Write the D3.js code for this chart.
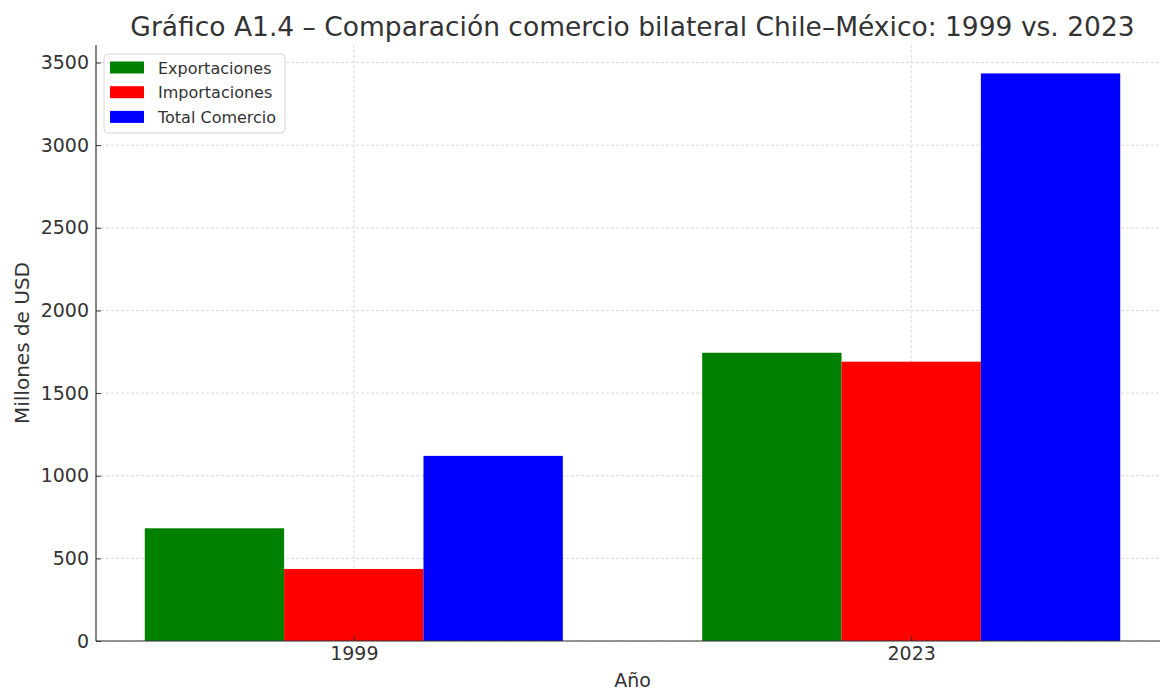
<!DOCTYPE html>
<html>
<head>
<meta charset="utf-8">
<script src="https://cdn.jsdelivr.net/npm/d3@7"></script>
<style>
  html, body { margin: 0; padding: 0; background: #fff; }
  svg { display: block; font-family: "DejaVu Sans", sans-serif; }
</style>
</head>
<body>
<svg id="chart" width="1160" height="690"></svg>
<script>
// Bilateral trade Chile–México, millions of USD
const years = ["1999", "2023"];
const seriesNames = ["Exportaciones", "Importaciones", "Total Comercio"];
const exportaciones = [682, 1744];
const importaciones = [436, 1690];
const totalComercio = [1120, 3434];
const yTicks = [0, 500, 1000, 1500, 2000, 2500, 3000, 3500];
const colors = ["#008000", "#ff0000", "#0000ff"];

const seriesValues = [exportaciones, importaciones, totalComercio];

const svg = d3.select("#chart");
const textColor = "#333333";

const plotLeft = 96, plotRight = 1169, plotTop = 45, plotBottom = 641;
const barWidth = 0.25;

// Linear x over category index, padded like a grouped bar layout
const x = d3.scaleLinear().domain([-0.4625, 1.4625]).range([plotLeft, plotRight]);
const y = d3.scaleLinear().domain([0, 3606]).range([plotBottom, plotTop]);

// Gridlines
const grid = svg.append("g");
grid.selectAll("line.h").data(yTicks).join("line")
  .attr("x1", plotLeft).attr("x2", plotRight)
  .attr("y1", d => y(d)).attr("y2", d => y(d))
  .attr("stroke", "#cfcfcf").attr("stroke-width", 0.8)
  .attr("stroke-dasharray", "3,2");
grid.selectAll("line.v").data(years).join("line")
  .attr("x1", (d, i) => x(i)).attr("x2", (d, i) => x(i))
  .attr("y1", plotTop).attr("y2", plotBottom)
  .attr("stroke", "#cfcfcf").attr("stroke-width", 0.8)
  .attr("stroke-dasharray", "3,2");

// Bars
const bars = svg.append("g");
seriesValues.forEach((vals, s) => {
  const offset = (s - 1) * barWidth;
  bars.append("g").selectAll("rect").data(vals).join("rect")
    .attr("x", (d, i) => x(i + offset - barWidth / 2))
    .attr("width", (d, i) => x(i + offset + barWidth / 2) - x(i + offset - barWidth / 2))
    .attr("y", d => y(d))
    .attr("height", d => y(0) - y(d))
    .attr("fill", colors[s]);
});

// Axes
const yAxis = d3.axisLeft(y).tickValues(yTicks).tickFormat(d3.format("d"))
  .tickSizeInner(-5).tickSizeOuter(0).tickPadding(7);
const gy = svg.append("g").attr("transform", `translate(${plotLeft},0)`).call(yAxis);
gy.select(".domain").attr("stroke", "#333").attr("stroke-width", 1.2).attr("d", `M0,${plotTop}V${plotBottom}`);
gy.selectAll(".tick line").attr("stroke", "#333");
gy.selectAll(".tick text").attr("fill", textColor).style("font-size", "19px")
  .style("font-family", "DejaVu Sans, sans-serif");

const xAxis = d3.axisBottom(x).tickValues([0, 1]).tickFormat(i => years[i])
  .tickSizeInner(-5).tickSizeOuter(0).tickPadding(6);
const gx = svg.append("g").attr("transform", `translate(0,${plotBottom})`).call(xAxis);
gx.select(".domain").attr("stroke", "#333").attr("stroke-width", 1.2).attr("d", `M${plotLeft},0H${plotRight}`);
gx.selectAll(".tick line").attr("stroke", "#333");
gx.selectAll(".tick text").attr("fill", textColor).style("font-size", "19px")
  .style("font-family", "DejaVu Sans, sans-serif");

// Title and axis labels
svg.append("text")
  .attr("x", (plotLeft + plotRight) / 2).attr("y", 36)
  .attr("text-anchor", "middle")
  .attr("fill", textColor)
  .style("font-size", "26.5px")
  .text("Gráfico A1.4 – Comparación comercio bilateral Chile–México: 1999 vs. 2023");

svg.append("text")
  .attr("x", (plotLeft + plotRight) / 2).attr("y", 687)
  .attr("text-anchor", "middle")
  .attr("fill", textColor)
  .style("font-size", "19px")
  .text("Año");

svg.append("text")
  .attr("transform", `translate(29,${(plotTop + plotBottom) / 2}) rotate(-90)`)
  .attr("text-anchor", "middle")
  .attr("fill", textColor)
  .style("font-size", "20px")
  .text("Millones de USD");

// Legend
const legend = svg.append("g").attr("transform", "translate(104,54)");
legend.append("rect")
  .attr("width", 181).attr("height", 79)
  .attr("rx", 4).attr("ry", 4)
  .attr("fill", "#fff").attr("fill-opacity", 0.8)
  .attr("stroke", "#d6d6d6").attr("stroke-width", 1);
seriesNames.forEach((name, i) => {
  const ly = 13.5 + i * 24.7;
  legend.append("rect")
    .attr("x", 6).attr("y", ly - 6)
    .attr("width", 34).attr("height", 12)
    .attr("fill", colors[i]);
  legend.append("text")
    .attr("x", 54).attr("y", ly + 6)
    .attr("fill", textColor)
    .style("font-size", "16px")
    .text(name);
});
</script>
</body>
</html>
